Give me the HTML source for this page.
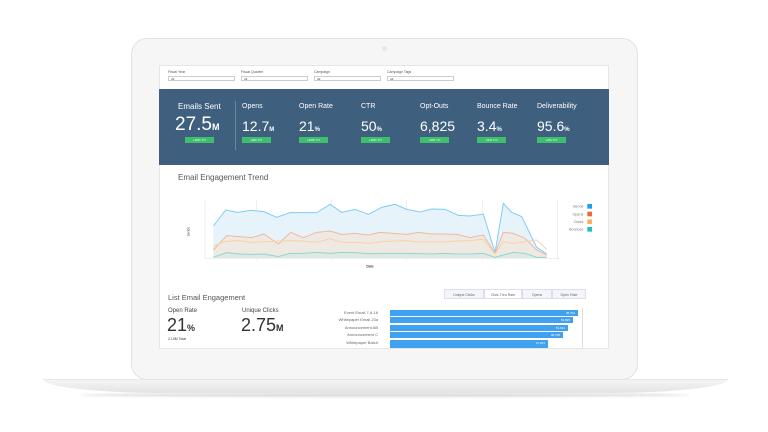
<!DOCTYPE html>
<html><head><meta charset="utf-8"><style>
*{margin:0;padding:0;box-sizing:border-box}
body{width:768px;height:432px;background:#fff;position:relative;overflow:hidden;font-family:"Liberation Sans",sans-serif;color:#444}
.a{position:absolute}
.bez{left:131px;top:38px;width:507px;height:342px;border:1.5px solid #e2e2e2;border-radius:16px;background:#f6f6f6}
.scr{left:159px;top:65px;width:450px;height:284px;background:#fff;border:1px solid #e6e6e6;overflow:hidden}
.base{left:43px;top:379px;width:685px;height:14px;background:linear-gradient(#f4f4f4,#e4e4e4);border-radius:0 0 120px 120px/0 0 14px 14px;border-top:1px solid #e8e8e8}
.sh{left:80px;top:393px;width:610px;height:4px;background:#ddd;border-radius:50%;filter:blur(1px)}
.lbl{font-size:3.5px;color:#555}
.sel{height:5px;border:0.5px solid #ccc;font-size:3px;padding-left:2px;line-height:4px}
.kpi{color:#fff;font-size:7px;font-weight:300}
.big{color:#fff;font-size:14px;font-weight:300;line-height:14px}
.yy{background:#3fbf6e;color:#fff;font-size:3px;width:29px;height:6px;text-align:center;line-height:6px}
.bar{background:#3fa1f0;height:6px;left:390px;color:#fff;font-size:3px;text-align:right;padding-right:3px;line-height:6px}
.bl{font-size:4px;color:#666;text-align:right;width:130px;left:248px}
.tab{font-size:3.5px;color:#666;text-align:center;line-height:10px;top:289px;height:10px;border:0.5px solid #dde;background:#f3f5f8}
</style></head><body>
<div class="a sh"></div>
<div class="a base"></div>
<div class="a bez"></div>
<div class="a" style="left:382px;top:46px;width:5px;height:5px;border-radius:50%;background:#e6e6e6"></div>
<div class="a scr"></div>
<!-- filters -->
<div class="a lbl" style="left:168px;top:70px">Fiscal Year</div><div class="a sel" style="left:168px;top:76px;width:67px">All</div>
<div class="a lbl" style="left:241px;top:70px">Fiscal Quarter</div><div class="a sel" style="left:241px;top:76px;width:67px">All</div>
<div class="a lbl" style="left:314px;top:70px">Campaign</div><div class="a sel" style="left:314px;top:76px;width:67px">All</div>
<div class="a lbl" style="left:387px;top:70px">Campaign Tags</div><div class="a sel" style="left:387px;top:76px;width:67px">All</div>
<!-- kpi panel -->
<div class="a" style="left:159px;top:89px;width:450px;height:76px;background:#3f5f7e"></div>
<div class="a" style="left:235px;top:101px;width:1px;height:49px;background:#6d87a0"></div>
<div class="a kpi" style="left:178px;top:102px;font-size:8px">Emails Sent</div>
<div class="a big" style="left:175px;top:115px;font-size:19px;line-height:19px">27.5<span style="font-size:9px;font-weight:700">M</span></div>
<div class="a yy" style="left:185px;top:137px">+10% Y/Y</div>
<div class="a kpi" style="left:242px;top:103px">Opens</div><div class="a big" style="left:242px;top:119px">12.7<span style="font-size:6px;font-weight:700">M</span></div><div class="a yy" style="left:242px;top:137px">+9% Y/Y</div>
<div class="a kpi" style="left:299px;top:103px">Open Rate</div><div class="a big" style="left:299px;top:119px">21<span style="font-size:6px;font-weight:700">%</span></div><div class="a yy" style="left:299px;top:137px">+12% Y/Y</div>
<div class="a kpi" style="left:361px;top:103px">CTR</div><div class="a big" style="left:361px;top:119px">50<span style="font-size:6px;font-weight:700">%</span></div><div class="a yy" style="left:361px;top:137px">+10% Y/Y</div>
<div class="a kpi" style="left:420px;top:103px">Opt-Outs</div><div class="a big" style="left:420px;top:119px">6,825</div><div class="a yy" style="left:420px;top:137px">-10% Y/Y</div>
<div class="a kpi" style="left:477px;top:103px">Bounce Rate</div><div class="a big" style="left:477px;top:119px">3.4<span style="font-size:6px;font-weight:700">%</span></div><div class="a yy" style="left:477px;top:137px">-11% Y/Y</div>
<div class="a kpi" style="left:537px;top:103px">Deliverability</div><div class="a big" style="left:537px;top:119px">95.6<span style="font-size:6px;font-weight:700">%</span></div><div class="a yy" style="left:537px;top:137px">+2% Y/Y</div>
<!-- chart -->
<div class="a" style="left:178px;top:173px;font-size:8px;color:#555">Email Engagement Trend</div>
<svg class="a" style="left:160px;top:170px" width="450" height="110" viewBox="0 0 1350 330">
<g stroke="#e5e5e5" stroke-width="2" fill="none"><line x1="135" y1="90" x2="135" y2="265"/><line x1="290" y1="90" x2="290" y2="270"/><line x1="515" y1="90" x2="515" y2="270"/><line x1="740" y1="90" x2="740" y2="270"/><line x1="967" y1="90" x2="967" y2="270"/><line x1="1192" y1="90" x2="1192" y2="270"/><line x1="135" y1="265" x2="1200" y2="265"/></g>
<polygon fill="#e7f3fb" points="160,168 197,120 232,127 272,121 312,125 350,142 390,128 430,128 470,128 510,103 545,127 585,118 625,133 665,112 705,103 740,118 780,126 815,117 855,118 895,136 930,138 970,132 1005,248 1030,100 1055,127 1085,140 1130,232 1160,252 1160,265 160,265"/>
<polygon fill="#efe9e4" points="160,240 200,197 240,200 275,203 312,192 355,222 392,187 430,203 470,187 510,183 545,193 585,190 625,195 660,187 700,190 740,193 775,187 815,192 855,192 890,193 930,203 970,195 1005,250 1030,187 1060,190 1095,205 1130,240 1160,255 1160,265 160,265"/>
<polygon fill="#dfe9e4" points="160,262 200,248 240,252 275,253 312,252 355,260 390,250 430,250 470,247 510,250 545,247 585,248 625,251 660,250 700,250 740,250 775,251 815,252 855,250 890,252 930,252 970,250 1005,262 1030,255 1060,247 1095,250 1130,262 1160,262 1160,265 160,265"/>
<g fill="none" stroke-width="3">
<polyline stroke="#7fcdf2" points="160,168 197,120 232,127 272,121 312,125 350,142 390,128 430,128 470,128 510,103 545,127 585,118 625,133 665,112 705,103 740,118 780,126 815,117 855,118 895,136 930,138 970,132 1005,248 1030,100 1055,127 1085,140 1130,232 1160,252"/>
<polyline stroke="#f0b89f" points="160,240 200,197 240,200 275,203 312,192 355,222 392,187 430,203 470,187 510,183 545,193 585,190 625,195 660,187 700,190 740,193 775,187 815,192 855,192 890,193 930,203 970,195 1005,250 1030,187 1060,190 1095,205 1130,240 1160,255"/>
<polyline stroke="#f7d2a8" points="160,228 195,215 235,212 275,217 312,216 355,213 390,212 430,213 470,217 510,206 545,217 585,217 625,220 660,216 700,213 740,212 775,216 815,216 855,216 890,213 930,212 970,208 1005,252 1030,215 1060,220 1095,215 1130,210 1160,238"/>
<polyline stroke="#8fd6cc" points="160,262 200,248 240,252 275,253 312,252 355,260 390,250 430,250 470,247 510,250 545,247 585,248 625,251 660,250 700,250 740,250 775,251 815,252 855,250 890,252 930,252 970,250 1005,262 1030,255 1060,247 1095,250 1130,262 1160,262"/>
</g>
<g font-size="11" fill="#777" text-anchor="end" font-family="Liberation Sans"><text x="1270" y="113">Sends</text><text x="1270" y="136">Opens</text><text x="1270" y="159">Clicks</text><text x="1270" y="182">Bounces</text></g>
<rect x="1282" y="102" width="14" height="14" fill="#1ba1e6"/><rect x="1282" y="125" width="14" height="14" fill="#e66a3b"/><rect x="1282" y="148" width="14" height="14" fill="#fbb060"/><rect x="1282" y="171" width="14" height="14" fill="#22c0b4"/>
<text x="630" y="292" font-size="10" font-weight="bold" fill="#444" text-anchor="middle" font-family="Liberation Sans">Date</text>
<text x="0" y="0" font-size="10" fill="#444" font-family="Liberation Sans" transform="translate(88,185) rotate(-90)" text-anchor="middle">Sends</text>
</svg>
<!-- list engagement -->
<div class="a" style="left:168px;top:293px;font-size:7.5px;color:#555">List Email Engagement</div>
<div class="a tab" style="left:444px;width:40px">Unique Clicks</div>
<div class="a tab" style="left:484px;width:38px;background:#fff">Click-Thru Rate</div>
<div class="a tab" style="left:522px;width:30px">Opens</div>
<div class="a tab" style="left:552px;width:34px">Open Rate</div>
<div class="a" style="left:168px;top:308px;font-size:6px;color:#444">Open Rate</div>
<div class="a" style="left:167px;top:316px;font-size:18px;font-weight:300;color:#333;line-height:18px">21<span style="font-size:9px;font-weight:700">%</span></div>
<div class="a" style="left:168px;top:337px;font-size:3.5px;color:#333">2.10M Total</div>
<div class="a" style="left:242px;top:308px;font-size:6px;color:#444">Unique Clicks</div>
<div class="a" style="left:241px;top:316px;font-size:18px;font-weight:300;color:#333;line-height:18px">2.75<span style="font-size:9px;font-weight:700">M</span></div>
<div class="a" style="left:582px;top:308px;width:0.5px;height:40px;background:#ddd"></div>
<div class="a bl" style="top:310px">Event Email 7-6-16</div><div class="a bar" style="top:310px;width:188px">96,702</div>
<div class="a bl" style="top:317px">Whitepaper Email 23a</div><div class="a bar" style="top:317px;width:183px">52,895</div>
<div class="a bl" style="top:325px">Announcement AB</div><div class="a bar" style="top:325px;width:178px">51,621</div>
<div class="a bl" style="top:332px">Announcement C</div><div class="a bar" style="top:332px;width:173px">48,708</div>
<div class="a bl" style="top:340px">Whitepaper Batch</div><div class="a bar" style="top:340px;width:158px;height:8px">37,201</div>
</body></html>
